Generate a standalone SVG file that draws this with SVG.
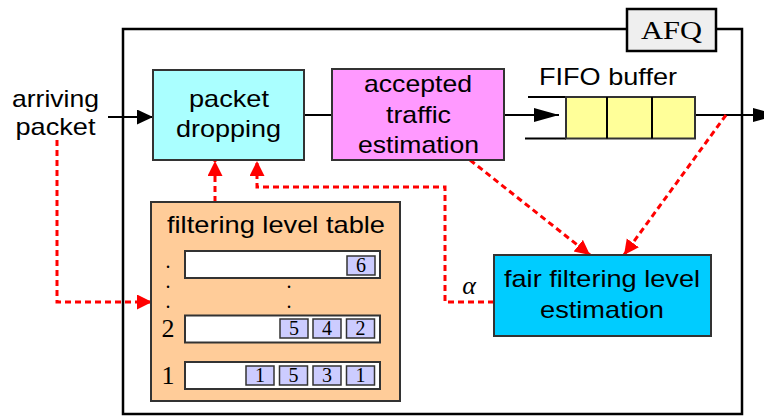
<svg xmlns="http://www.w3.org/2000/svg" width="764" height="416" viewBox="0 0 764 416">
  <defs>
    <style>
      .box { stroke: #333; stroke-width: 2; }
      .lbl { font-family: "Liberation Sans", Arial, sans-serif; font-size: 24px; fill: #000; text-anchor: middle; }
      .serif { font-family: "Liberation Serif", "Times New Roman", serif; fill: #000; text-anchor: middle; }
      .wire { fill: none; stroke: #000; stroke-width: 2; }
      .ctl { fill: none; stroke: #ff0000; stroke-width: 3; stroke-dasharray: 6 4; }
      .row { fill: #fff; stroke: #333; stroke-width: 2; }
      .cell { fill: #ccccff; stroke: #333; stroke-width: 1.5; }
    </style>
    <marker id="ahRed" markerUnits="userSpaceOnUse" markerWidth="16" markerHeight="16" refX="15" refY="7.5" orient="auto">
      <path d="M0,0 L15,7.5 L0,15 Z" fill="#ff0000"/>
    </marker>
    <marker id="ahBlk" markerUnits="userSpaceOnUse" markerWidth="17" markerHeight="16" refX="16" refY="7.5" orient="auto">
      <path d="M0,0 L16,7.5 L0,15 Z" fill="#000"/>
    </marker>
    <marker id="ahBlkLong" markerUnits="userSpaceOnUse" markerWidth="26" markerHeight="16" refX="25" refY="7" orient="auto">
      <path d="M0,0 L25,7 L0,14 Z" fill="#000"/>
    </marker>
  </defs>

  <rect width="764" height="416" fill="#fff"/>

  <!-- outer AFQ frame -->
  <g id="afq-frame">
    <rect x="123" y="29" width="619" height="385" fill="none" stroke="#000" stroke-width="2.5"/>
    <rect x="627" y="9" width="89" height="42" fill="#efefef" stroke="#000" stroke-width="2.5"/>
    <text class="serif" x="671.5" y="39" font-size="26" textLength="61" lengthAdjust="spacingAndGlyphs">AFQ</text>
  </g>

  <!-- input label -->
  <g id="arriving-packet">
    <text class="lbl" x="55.5" y="107" textLength="87" lengthAdjust="spacingAndGlyphs">arriving</text>
    <text class="lbl" x="55.5" y="135" textLength="80" lengthAdjust="spacingAndGlyphs">packet</text>
  </g>

  <!-- connectors -->
  <g id="connectors">
    <!-- data path -->
    <line class="wire" x1="108" y1="117" x2="153" y2="117" marker-end="url(#ahBlk)"/>
    <line class="wire" x1="304" y1="115" x2="332" y2="115"/>
    <line class="wire" x1="504" y1="115" x2="559" y2="115" marker-end="url(#ahBlkLong)"/>
    <line class="wire" x1="695" y1="115" x2="778" y2="115" marker-end="url(#ahBlkLong)"/>
    <!-- control paths -->
    <polyline class="ctl" points="57,140 57,302 152,302" marker-end="url(#ahRed)"/>
    <line class="ctl" x1="215" y1="202" x2="215" y2="161" marker-end="url(#ahRed)"/>
    <polyline class="ctl" points="494,302 445,302 445,187 257,187 257,161" marker-end="url(#ahRed)"/>
    <line class="ctl" x1="470" y1="160" x2="590" y2="255" marker-end="url(#ahRed)"/>
    <line class="ctl" x1="726" y1="115" x2="624" y2="255" marker-end="url(#ahRed)"/>
  </g>

  <g id="packet-dropping">
    <rect class="box" x="153" y="70" width="151" height="90" fill="#aaffff"/>
    <text class="lbl" x="229" y="107" textLength="80" lengthAdjust="spacingAndGlyphs">packet</text>
    <text class="lbl" x="228.5" y="137" textLength="105" lengthAdjust="spacingAndGlyphs">dropping</text>
  </g>

  <g id="accepted-traffic-estimation">
    <rect class="box" x="332" y="69" width="172" height="91" fill="#ff99ff"/>
    <text class="lbl" x="418" y="92" textLength="108" lengthAdjust="spacingAndGlyphs">accepted</text>
    <text class="lbl" x="418.5" y="123" textLength="65" lengthAdjust="spacingAndGlyphs">traffic</text>
    <text class="lbl" x="418.5" y="153" textLength="121" lengthAdjust="spacingAndGlyphs">estimation</text>
  </g>

  <g id="fifo-buffer">
    <text class="lbl" x="608" y="85" textLength="138" lengthAdjust="spacingAndGlyphs">FIFO buffer</text>
    <line class="wire" x1="528" y1="97" x2="566" y2="97"/>
    <line class="wire" x1="525" y1="138.5" x2="566" y2="138.5"/>
    <rect class="box" x="566" y="97" width="129" height="41.5" fill="#ffff99"/>
    <line class="wire" x1="607" y1="97" x2="607" y2="138.5" stroke="#333"/>
    <line class="wire" x1="652" y1="97" x2="652" y2="138.5" stroke="#333"/>
  </g>

  <g id="fair-filtering-level-estimation">
    <rect class="box" x="494" y="255" width="217" height="81" fill="#00ccff"/>
    <text class="lbl" x="602" y="287" textLength="196" lengthAdjust="spacingAndGlyphs">fair filtering level</text>
    <text class="lbl" x="602" y="318" textLength="124" lengthAdjust="spacingAndGlyphs">estimation</text>
    <text class="serif" x="469" y="294" font-size="26" font-style="italic">α</text>
  </g>

  <g id="filtering-level-table">
    <rect class="box" x="151" y="202" width="249" height="199" fill="#ffcc99"/>
    <text class="lbl" x="276" y="233" textLength="218" lengthAdjust="spacingAndGlyphs">filtering level table</text>

    <!-- level index column -->
    <text class="serif" font-size="20" x="168" y="268">.</text>
    <text class="serif" font-size="20" x="168" y="288">.</text>
    <text class="serif" font-size="20" x="168" y="308">.</text>
    <text class="serif" font-size="20" x="289" y="288">.</text>
    <text class="serif" font-size="20" x="289" y="308">.</text>
    <text class="serif" font-size="26" x="168" y="337">2</text>
    <text class="serif" font-size="26" x="168" y="384">1</text>

    <!-- top level -->
    <rect class="row" x="185" y="251" width="195" height="27"/>
    <rect class="cell" x="347" y="256" width="28" height="19"/>
    <text class="serif" font-size="20" x="361" y="272">6</text>

    <!-- level 2 -->
    <rect class="row" x="185" y="315.5" width="195" height="27"/>
    <rect class="cell" x="280" y="319" width="28" height="19"/>
    <rect class="cell" x="313" y="319" width="28" height="19"/>
    <rect class="cell" x="346.5" y="319" width="28" height="19"/>
    <text class="serif" font-size="20" x="294" y="335">5</text>
    <text class="serif" font-size="20" x="327" y="335">4</text>
    <text class="serif" font-size="20" x="360.5" y="335">2</text>

    <!-- level 1 -->
    <rect class="row" x="185" y="362" width="195" height="27"/>
    <rect class="cell" x="246" y="366" width="28" height="19"/>
    <rect class="cell" x="279.5" y="366" width="28" height="19"/>
    <rect class="cell" x="313" y="366" width="28" height="19"/>
    <rect class="cell" x="346.5" y="366" width="28" height="19"/>
    <text class="serif" font-size="20" x="260" y="382">1</text>
    <text class="serif" font-size="20" x="293.5" y="382">5</text>
    <text class="serif" font-size="20" x="327" y="382">3</text>
    <text class="serif" font-size="20" x="360.5" y="382">1</text>
  </g>
</svg>
